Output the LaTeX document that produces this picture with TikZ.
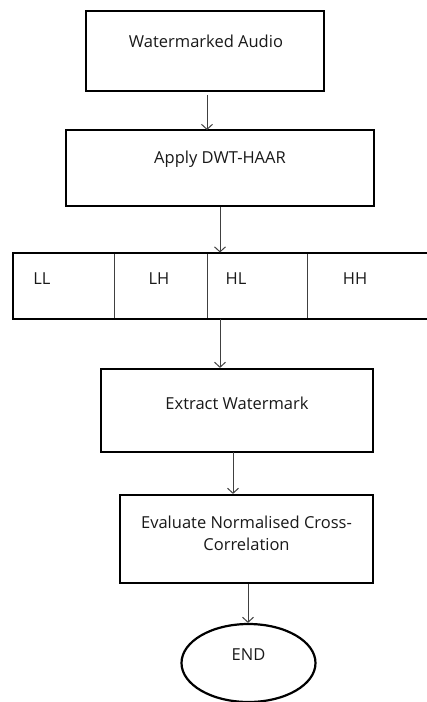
\documentclass[tikz,border=0pt]{standalone}
\usepackage{fontspec}
\setmainfont{Open Sans}
\usetikzlibrary{arrows.meta,shapes.geometric}
\begin{document}
\begin{tikzpicture}[x=1pt,y=-1pt,
  box/.style={draw=black,line width=2.2pt,minimum width=#1,inner sep=0pt,fill=white},
  cell/.style={draw=black!75,line width=1pt,inner sep=0pt,minimum height=66pt},
  txt/.style={font=\fontsize{16.5}{22}\selectfont,text=black!90,inner sep=0pt,align=center},
  arr/.style={draw=black!75,line width=1pt,-{Straight Barb[length=5pt,width=11pt]}}]
\useasboundingbox (0,0) rectangle (427,702);
\clip (0,0) rectangle (427,702);
% boxes
\node[box=238pt,minimum height=80pt] (b1) at (205,51) {};
\node[txt] (t1) at (206,41) {Watermarked Audio};
\node[box=308pt,minimum height=76pt] (b2) at (220,168) {};
\node[txt] (t2) at (220,159) {Apply DWT-HAAR};
% band of sub-bands
\node[cell,minimum width=101pt] (ll) at (63.5,286) {};
\node[cell,minimum width=93pt] (lh) at (160.5,286) {};
\node[cell,minimum width=100pt] (hl) at (257,286) {};
\node[cell,minimum width=133pt] (hh) at (373.5,286) {};
\draw[line width=2.2pt] (440,253) -- (13,253) -- (13,319) -- (440,319);
\node[txt] (tll) at (42,279) {LL};
\node[txt] (tlh) at (159,279) {LH};
\node[txt] (thl) at (236,279) {HL};
\node[txt] (thh) at (355,279) {HH};
\node[box=272pt,minimum height=83pt] (b3) at (237,410.5) {};
\node[txt] (t3) at (237,403) {Extract Watermark};
\node[box=253pt,minimum height=88pt] (b4) at (246.5,539) {};
\node[txt] (t4) at (246.5,533) {Evaluate Normalised Cross-\\Correlation};
\node[draw=black,line width=2.2pt,ellipse,minimum width=134pt,minimum height=78pt,inner sep=0pt] (e) at (248.5,663) {};
\node[txt] (te) at (248.5,655) {END};
% connectors
\coordinate (c1) at (207,95);
\coordinate (c2) at (207,130);
\draw[arr] (c1) -- (c2);
\draw[arr] (b2.south) -- (b2.south |- hl.north);
\coordinate (c3) at (220,319);
\draw[arr] (c3) -- (c3 |- b3.north);
\coordinate (c4) at (233,452);
\draw[arr] (c4) -- (c4 |- b4.north);
\coordinate (c5) at (248,584);
\draw[arr] (c5) -- (c5 |- e.north);
\end{tikzpicture}
\end{document}
